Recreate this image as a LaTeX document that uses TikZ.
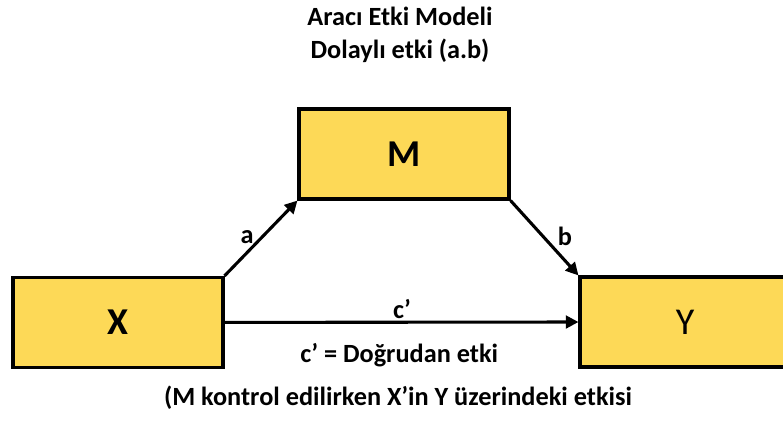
\documentclass[tikz,border=0pt]{standalone}
\usepackage{fontspec}
\setmainfont{Carlito}
\usepackage{tikz}
\usetikzlibrary{positioning,arrows.meta}
\definecolor{boxyellow}{HTML}{FDD957}

\begin{document}
\begin{tikzpicture}[
			varbox/.style={rectangle, draw=black, fill=boxyellow, line width=2.2pt, minimum width=5.25cm, minimum height=2.25cm, font=\fontsize{27}{31}\selectfont\bfseries},
			description/.style={font=\fontsize{18.7}{22}\selectfont\bfseries},
			effect/.style={line width=2.2pt, -{Triangle[length=9pt,width=9pt]}},
			]
			\useasboundingbox (0,0) rectangle (19.575,-10.525);
			%Nodes
				\node[description]	(title)		at (10.0,-0.42)	{Aracı Etki Modeli};
				\node[description]	(indirect)	at (10.0,-1.27)	{Dolaylı etki (a.b)};
				\node[varbox]		(m)			at (10.1,-3.85)	{M};
				\node[varbox]		(x)			at (2.95,-8.06)	{X};
				\node[varbox, font=\fontsize{27}{31}\selectfont]	(y)	at (17.125,-8.05)	{Y};
				\node[description]	(a-label)	at (6.18,-5.92)	{a};
				\node[description]	(b-label)	at (14.12,-5.92)	{b};
				\node[description]	(c-label)	at (10.05,-7.72)	{c’};
				\node[description]	(direct)	at (9.98,-8.88)	{c’ = Doğrudan etki};
				\node[description]	(control)	at (9.95,-9.95)	{(M kontrol edilirken X’in Y üzerindeki etkisi};

			%Lines
				\draw[effect] (x.north east) -- (m.south west);
				\draw[effect] (m.south east) -- (y.north west);
				\draw[effect] (x.east) -- (y.west);
		\end{tikzpicture}
\end{document}
